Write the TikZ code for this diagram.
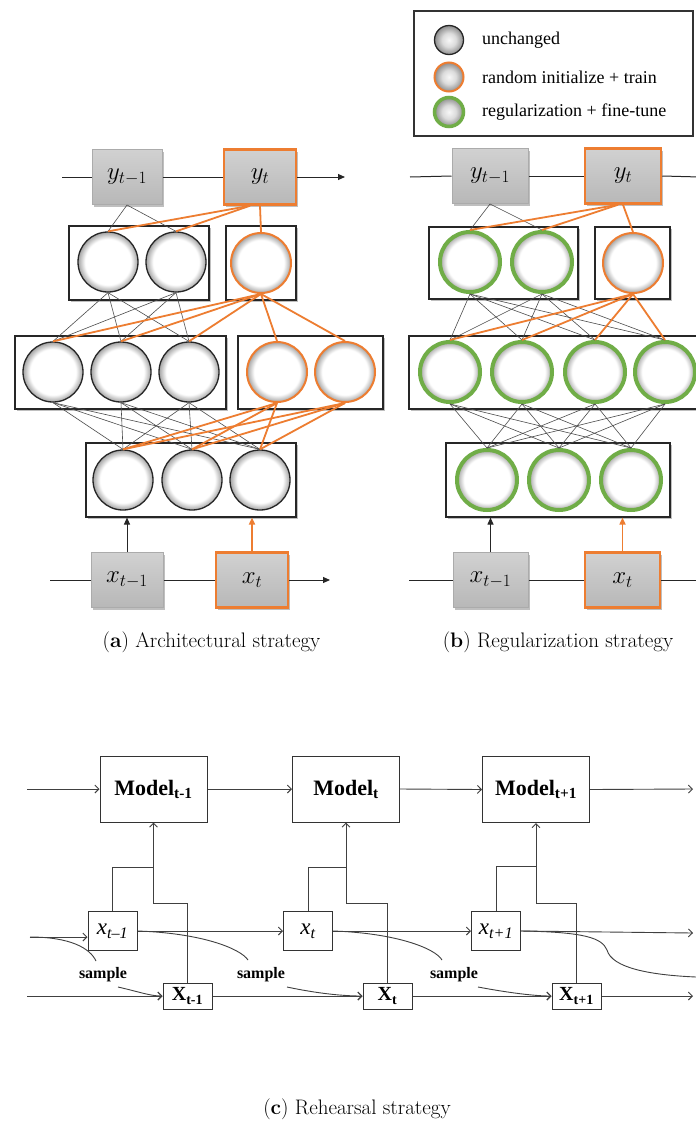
\documentclass[tikz,border=0pt]{standalone}
\usepackage{fontspec}
\newfontfamily\timesf{Liberation Serif}
\usetikzlibrary{arrows.meta,shadows}
\definecolor{orng}{HTML}{ED7D31}
\definecolor{grn}{HTML}{70AD47}
\pgfdeclareradialshading{ballsh}{\pgfpoint{0bp}{0bp}}{color(0bp)=(white); color(19bp)=(white); color(25bp)=(black!36); color(50bp)=(black!36)}
\pgfdeclareradialshading{legsh}{\pgfpoint{0bp}{0bp}}{color(0bp)=(white!97!black); color(12bp)=(white!86!black); color(25bp)=(black!45); color(50bp)=(black!45)}
\begin{document}
\begin{tikzpicture}[x=1pt,y=-1pt,
  bshadow/.style={drop shadow={shadow xshift=2pt,shadow yshift=-2pt,fill=black,opacity=0.25}},
  layerbox/.style={draw=black!85,line width=1.1pt,fill=white,bshadow,inner sep=0pt},
  ball/.style={circle,minimum size=60pt,inner sep=0pt,shading=ballsh,draw=black!85,line width=1.3pt},
  oball/.style={ball,draw=orng,line width=2pt},
  gball/.style={ball,draw=grn,line width=4pt},
  lball/.style={circle,minimum size=29pt,inner sep=0pt,shading=legsh,draw=black!85,line width=1.3pt},
  graybox/.style={draw=black!33,line width=1pt,top color=black!18,bottom color=black!28,bshadow,minimum width=72pt,minimum height=55pt,inner sep=0pt,font=\fontsize{26}{30}\selectfont},
  orangebox/.style={graybox,draw=orng,line width=2.5pt},
  thinlink/.style={draw=black!70,line width=0.6pt},
  olink/.style={draw=orng,line width=1.8pt},
  hline/.style={draw=black!85,line width=1pt},
  harrow/.style={hline,-{Triangle[length=7pt,width=6pt]}},
  oarrow/.style={draw=orng,line width=1.6pt,-{Triangle[length=7pt,width=6pt]}},
  legtext/.style={anchor=west,inner sep=0pt,font=\timesf\fontsize{18}{21}\selectfont},
  captext/.style={anchor=base,inner sep=0pt,font=\fontsize{21}{25}\selectfont},
  cbox/.style={draw=black!80,line width=1pt,fill=white,inner sep=0pt},
  modelbox/.style={cbox,minimum width=107pt,minimum height=66pt,font=\timesf\bfseries\fontsize{22}{25}\selectfont},
  xbox/.style={cbox,minimum width=49pt,minimum height=39pt,font=\timesf\itshape\fontsize{23}{26}\selectfont},
  Xbox/.style={cbox,minimum width=49pt,minimum height=26pt,font=\timesf\bfseries\fontsize{20}{22}\selectfont},
  samp/.style={inner sep=0pt,font=\timesf\bfseries\fontsize{16}{18}\selectfont},
  cline/.style={draw=black!75,line width=0.9pt},
  carrow/.style={cline,-{Straight Barb[length=4pt,width=8pt]}}
]
\clip (0,0) rectangle (696,1122);
\fill[white] (0,0) rectangle (696,1122);

% ---------------- legend ----------------
\node[draw=black!80,line width=1.2pt,fill=white,minimum width=279pt,minimum height=125pt,inner sep=0pt] (leg) at (553.5,73.5) {};
\node[lball] (l1) at (449,40) {};
\node[lball,draw=orng,line width=2pt] (l2) at (449,77) {};
\node[lball,draw=grn,line width=3.5pt] (l3) at (449,112) {};
\node[legtext] (t1) at (482,40) {unchanged};
\node[legtext] (t2) at (482,77) {random initialize + train};
\node[legtext] (t3) at (482,112) {regularization + fine-tune};

% ---------------- panel (a) ----------------
\node[layerbox,minimum width=140pt,minimum height=74pt] (A1L) at (139,263) {};
\node[layerbox,minimum width=70pt,minimum height=74pt] (A1R) at (261,263) {};
\node[layerbox,minimum width=211pt,minimum height=73pt] (A2L) at (120.5,372.5) {};
\node[layerbox,minimum width=145pt,minimum height=73pt] (A2R) at (310.5,372.5) {};
\node[layerbox,minimum width=210pt,minimum height=74pt] (A3) at (191,480) {};

\coordinate (ay0) at (62,177);
\coordinate (ay9) at (345,177);
\coordinate (ax0) at (50,580);
\coordinate (ax9) at (330,580);
\node[graybox,minimum width=70pt] (aya) at (127,177) {$y_{t-1}$};
\node[orangebox] (ayb) at (260,177) {$y_t$};
\node[graybox] (axa) at (127,580) {$x_{t-1}$};
\node[orangebox] (axb) at (252,580) {$x_t$};
\draw[hline] (ay0) -- (aya.west);
\draw[hline] (aya.east) -- (ayb.west);
\draw[harrow] (ayb.east) -- (ay9);
\draw[hline] (ax0) -- (axa.west);
\draw[hline] (axa.east) -- (axb.west);
\draw[harrow] (axb.east) -- (ax9);
\draw[harrow] (axa.north) -- (axa.north |- A3.south);
\draw[oarrow] (axb.north) -- (axb.north |- A3.south);

\node[ball] (a11) at (108,262) {};
\node[ball] (a12) at (176,262) {};
\node[oball] (a13) at (261,263) {};
\node[ball] (a21) at (53,372) {};
\node[ball] (a22) at (121,372) {};
\node[ball] (a23) at (189,372) {};
\node[oball] (a24) at (277,372) {};
\node[oball] (a25) at (345,372) {};
\node[ball] (a31) at (123,480) {};
\node[ball] (a32) at (192,480) {};
\node[ball] (a33) at (260,480) {};

\foreach \v in {a11,a12} \draw[thinlink] (aya.south) -- (\v.north);
\foreach \u in {a11,a12} \foreach \v in {a21,a22,a23} \draw[thinlink] (\u.south) -- (\v.north);
\foreach \u in {a21,a22,a23} \foreach \v in {a31,a32,a33} \draw[thinlink] (\u.south) -- (\v.north);
\foreach \v in {a11,a12} \draw[olink] ([xshift=-10pt]ayb.south) -- (\v.north);
\draw[olink] (ayb.south) -- (a13.north);
\foreach \v in {a21,a22,a23,a24,a25} \draw[olink] (a13.south) -- (\v.north);
\foreach \u in {a24,a25} \foreach \v in {a31,a32,a33} \draw[olink] (\u.south) -- (\v.north);

\node[captext] (capa) at (211.5,647) {(\textbf{a}) Architectural strategy};

% ---------------- panel (b) ----------------
\node[layerbox,minimum width=149pt,minimum height=72pt] (B1L) at (503.5,263) {};
\node[layerbox,minimum width=75pt,minimum height=72pt] (B1R) at (632.5,263) {};
\node[layerbox,minimum width=331pt,minimum height=73pt] (B2) at (574.5,372.5) {};
\node[layerbox,minimum width=224pt,minimum height=74pt] (B3) at (558,480) {};

\coordinate (by0) at (410,177);
\coordinate (by9) at (700,177);
\coordinate (bx0) at (409,580);
\coordinate (bx9) at (700,580);
\node[graybox,minimum width=76pt] (bya) at (490,176) {$y_{t-1}$};
\node[orangebox,minimum width=76pt] (byb) at (623,176) {$y_t$};
\node[graybox,minimum width=75pt] (bxa) at (490.5,580) {$x_{t-1}$};
\node[orangebox,minimum width=75pt] (bxb) at (622.5,580) {$x_t$};
\draw[hline] (by0) -- (bya.west);
\draw[hline] (bya.east) -- (byb.west);
\draw[hline] (byb.east) -- (by9);
\draw[hline] (bx0) -- (bxa.west);
\draw[hline] (bxa.east) -- (bxb.west);
\draw[hline] (bxb.east) -- (bx9);
\draw[harrow] (bxa.north) -- (bxa.north |- B3.south);
\draw[oarrow] (bxb.north) -- (bxb.north |- B3.south);

\node[gball] (b11) at (470,262) {};
\node[gball] (b12) at (542,262) {};
\node[oball] (b13) at (633,263) {};
\node[gball] (b21) at (450,372) {};
\node[gball] (b22) at (522,372) {};
\node[gball] (b23) at (595,372) {};
\node[gball] (b24) at (665,372) {};
\node[gball] (b31) at (487,480) {};
\node[gball] (b32) at (559,480) {};
\node[gball] (b33) at (631,480) {};

\foreach \v in {b11,b12} \draw[thinlink] (bya.south) -- (\v.north);
\foreach \u in {b11,b12} \foreach \v in {b21,b22,b23,b24} \draw[thinlink] (\u.south) -- (\v.north);
\foreach \u in {b21,b22,b23,b24} \foreach \v in {b31,b32,b33} \draw[thinlink] (\u.south) -- (\v.north);
\foreach \v in {b11,b12} \draw[olink] ([xshift=-5pt]byb.south) -- (\v.north);
\draw[olink] (byb.south) -- (b13.north);
\foreach \v in {b21,b22,b23,b24} \draw[olink] (b13.south) -- (\v.north);

\node[captext] (capb) at (558,647) {(\textbf{b}) Regularization strategy};

% ---------------- panel (c) ----------------
\node[modelbox] (ma) at (153.5,789) {Model\textsubscript{t-1}};
\node[modelbox] (mb) at (346,789) {Model\textsubscript{t}};
\node[modelbox] (mc) at (536,789.5) {Model\textsubscript{t+1}};
\node[xbox] (xa) at (112.5,931) {x\textsubscript{t–1}};
\node[xbox] (xb) at (308,931) {x\textsubscript{t}};
\node[xbox] (xc) at (496,931) {x\textsubscript{t+1}};
\node[Xbox] (Xa) at (187.5,996) {X\textsubscript{t-1}};
\node[Xbox] (Xb) at (387.5,996) {X\textsubscript{t}};
\node[Xbox] (Xc) at (576.5,996) {X\textsubscript{t+1}};

\coordinate (inM) at (27,789);
\coordinate (outM) at (693,789);
\coordinate (inx) at (30,937);
\coordinate (outx) at (693,933);
\coordinate (inX) at (27,996);
\coordinate (outX) at (693,996);

\draw[carrow] (inM) -- (ma.west);
\draw[carrow] (ma.east) -- (mb.west);
\draw[carrow] (mb.east) -- (mc.west);
\draw[carrow] (mc.east) -- (outM);
\draw[carrow] (inx) -- (inx -| xa.west);
\draw[carrow] (xa.east) -- (xb.west);
\draw[carrow] (xb.east) -- (xc.west);
\draw[carrow] (xc.east) -- (outx);
\draw[carrow] (inX) -- (Xa.west);
\draw[carrow] (Xa.east) -- (Xb.west);
\draw[carrow] (Xb.east) -- (Xc.west);
\draw[carrow] (Xc.east) -- (outX);

% feedback into models
\coordinate (ja1) at (153.5,867);
\coordinate (ja2) at (153.5,903);
\coordinate (jb1) at (346,867);
\coordinate (jb2) at (346,903);
\coordinate (jc1) at (536,866);
\coordinate (jc2) at (536,903);
\draw[cline] (xa.north) |- (ja1);
\draw[carrow] (Xa.north) |- (ja2) -- (ma.south);
\draw[cline] (xb.north) |- (jb1);
\draw[carrow] (Xb.north) |- (jb2) -- (mb.south);
\draw[cline] (xc.north) |- (jc1);
\draw[carrow] (Xc.north) |- (jc2) -- (mc.south);

% sample curves
\node[samp] (s1) at (103,975) {sample};
\node[samp] (s2) at (261,975) {sample};
\node[samp] (s3) at (454,975) {sample};
\coordinate (c1a) at (96,961);
\coordinate (c1b) at (118,987);
\coordinate (c2a) at (248,960);
\coordinate (c2b) at (287,987);
\coordinate (c3a) at (442,960);
\coordinate (c3b) at (478,987);
\coordinate (c4a) at (607,950);
\coordinate (c4b) at (696,977);
\draw[cline] (inx) .. controls (70,937) and (90,948) .. (c1a);
\draw[carrow] (c1b) .. controls (140,992) and (150,996) .. (Xa.west);
\draw[cline] (xa.east) .. controls (200,933) and (240,948) .. (c2a);
\draw[carrow] (c2b) .. controls (320,994) and (345,996) .. (Xb.west);
\draw[cline] (xb.east) .. controls (395,933) and (435,948) .. (c3a);
\draw[carrow] (c3b) .. controls (510,993) and (535,996) .. (Xc.west);
\draw[cline] (xc.east) .. controls (585,932) and (602,938) .. (c4a) .. controls (612,968) and (650,975) .. (c4b);

\node[captext] (capc) at (357,1114) {(\textbf{c}) Rehearsal strategy};
\end{tikzpicture}
\end{document}
